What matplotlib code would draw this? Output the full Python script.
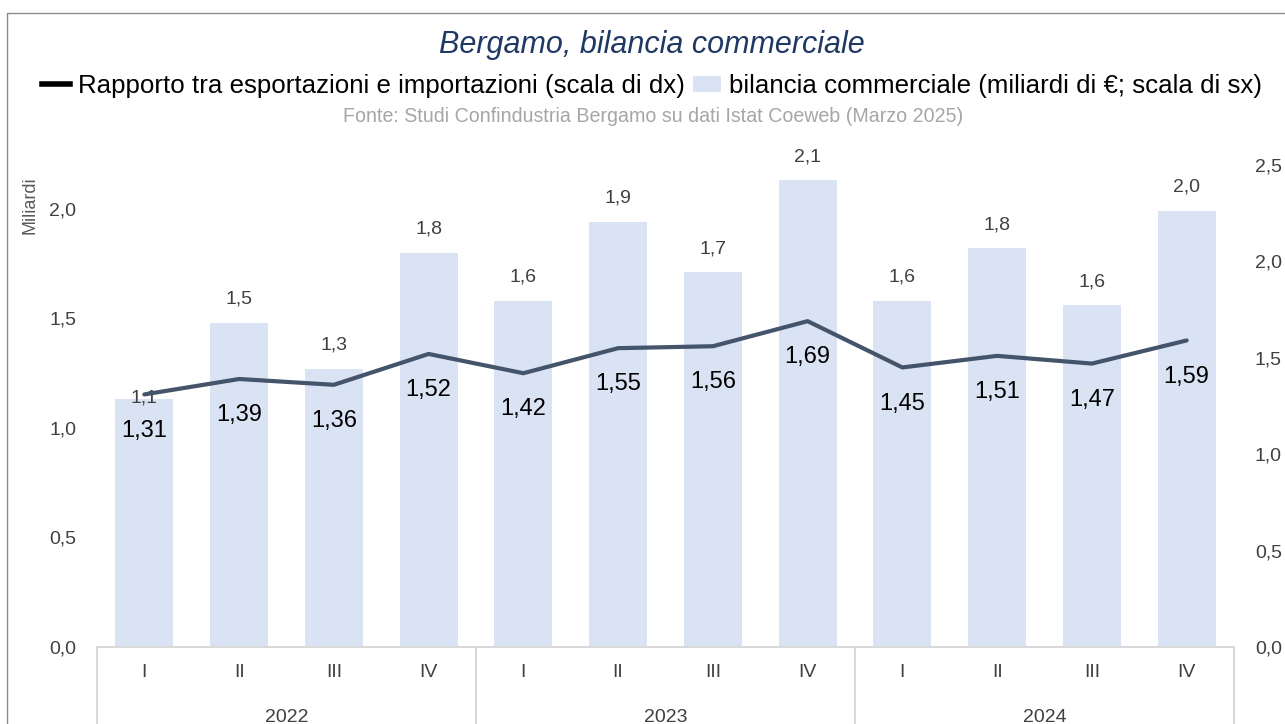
import matplotlib
matplotlib.use("Agg")
import matplotlib.pyplot as plt
from matplotlib.lines import Line2D
from matplotlib.patches import Patch, Rectangle
import matplotlib.transforms as mtransforms
from matplotlib import font_manager

names = {f.name for f in font_manager.fontManager.ttflist}
FONT = 'Liberation Sans Narrow' if 'Liberation Sans Narrow' in names else 'Liberation Sans'
plt.rcParams['font.family'] = [FONT, 'DejaVu Sans']

quarters = ['I', 'II', 'III', 'IV'] * 3
years = ['2022', '2023', '2024']
balance = [1.13, 1.48, 1.27, 1.80, 1.58, 1.94, 1.71, 2.13, 1.58, 1.82, 1.56, 1.99]
balance_labels = ['1,1', '1,5', '1,3', '1,8', '1,6', '1,9', '1,7', '2,1', '1,6', '1,8', '1,6', '2,0']
ratio = [1.31, 1.39, 1.36, 1.52, 1.42, 1.55, 1.56, 1.69, 1.45, 1.51, 1.47, 1.59]
left_ticks = [0.0, 0.5, 1.0, 1.5, 2.0]
right_ticks = [0.0, 0.5, 1.0, 1.5, 2.0, 2.5]

W, H = 1285, 724
fig = plt.figure(figsize=(W / 100, H / 100), dpi=100)

x0, x1, ytop, ybot = 97, 1234, 165, 647
ax = fig.add_axes([x0 / W, (H - ybot) / H, (x1 - x0) / W, (ybot - ytop) / H])
ax2 = ax.twinx()

xs = list(range(len(balance)))
ax.bar(xs, balance, width=0.61, color='#DAE3F3', zorder=1)
ax.set_xlim(-0.5, len(balance) - 0.5)
ax.set_ylim(0, 2.2)
ax2.set_ylim(0, 2.5)

ax2.plot(xs, ratio, color='#44546A', lw=3, zorder=3, solid_capstyle='round')

for i, (v, lab) in enumerate(zip(balance, balance_labels)):
    off = 1 if i == 0 else 17
    ax.annotate(lab, (i, v), xytext=(0, off), textcoords='offset points',
                ha='center', va='center', fontsize=14, color='#404040', zorder=5)
for i, v in enumerate(ratio):
    ax2.annotate(f"{v:.2f}".replace('.', ','), (i, v), xytext=(0, -26), textcoords='offset points',
                 ha='center', va='center', fontsize=17, color='black', zorder=5)

for a in (ax, ax2):
    for s in a.spines.values():
        s.set_visible(False)
ax.spines['bottom'].set_visible(True)
ax.spines['bottom'].set_color('#D9D9D9')
ax.spines['bottom'].set_linewidth(1.5)

ax.set_yticks(left_ticks)
ax.set_yticklabels([f"{t:.1f}".replace('.', ',') for t in left_ticks])
ax2.set_yticks(right_ticks)
ax2.set_yticklabels([f"{t:.1f}".replace('.', ',') for t in right_ticks])
ax.tick_params(axis='y', length=0, labelsize=14, labelcolor='#404040', pad=15)
ax2.tick_params(axis='y', length=0, labelsize=14, labelcolor='#404040', pad=15)

ax.set_xticks(xs)
ax.set_xticklabels(quarters)
ax.tick_params(axis='x', length=0, labelsize=14, labelcolor='#404040', pad=12)

trans = mtransforms.blended_transform_factory(ax.transData, ax.transAxes)
for k in range(len(years) + 1):
    xb = k * 4 - 0.5
    ax.plot([xb, xb], [0, -0.3], transform=trans, color='#D9D9D9', lw=1.5, clip_on=False)
for k, yr in enumerate(years):
    ax.text(k * 4 + 1.5, -0.147, yr, transform=trans, ha='center', va='center',
            fontsize=14, color='#404040')

fig.text(30 / W, 1 - 205 / H, 'Miliardi', rotation=90, ha='center', va='center',
         fontsize=13, color='#595959')

fig.text(652 / W, 1 - 45 / H, 'Bergamo, bilancia commerciale', ha='center', va='center',
         fontsize=22, style='italic', color='#1F3864')
handles = [Line2D([], [], color='black', lw=4),
           Patch(facecolor='#DAE3F3', edgecolor='none')]
labels = ['Rapporto tra esportazioni e importazioni (scala di dx)',
          'bilancia commerciale (miliardi di €; scala di sx)']
fig.legend(handles, labels, loc='center', bbox_to_anchor=(652 / W, 1 - 86 / H), ncol=2,
           frameon=False, fontsize=18.6, handlelength=1.1, handletextpad=0.3,
           columnspacing=0.3, handleheight=0.6)
fig.text(653 / W, 1 - 117 / H, 'Fonte: Studi Confindustria Bergamo su dati Istat Coeweb (Marzo 2025)',
         ha='center', va='center', fontsize=14.1, color='#A6A6A6')

fig.patches.append(Rectangle((7 / W, -0.2), 2, 1.2 - 13 / H, transform=fig.transFigure,
                             fill=False, edgecolor='#8C8C8C', lw=1))

fig.savefig('out.png', dpi=100)
